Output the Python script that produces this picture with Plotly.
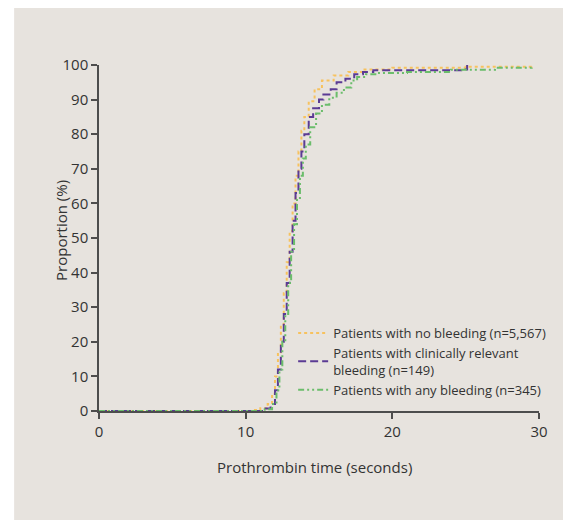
import plotly.graph_objects as go

# Prothrombin time (seconds) vs cumulative proportion (%)
no_bleed_x = [0, 10.0, 10.5, 11.0, 11.5, 11.8, 12.0, 12.2, 12.4, 12.6, 12.8, 13.0, 13.2, 13.4, 13.6, 13.8,
              14.0, 14.3, 14.7, 15.2, 16.0, 17.0, 18.0, 20.0, 25.0, 29.5]
no_bleed_y = [0, 0, 0.3, 0.8, 2, 5, 10, 17, 25, 34, 43, 52, 60, 68, 75, 81,
              85, 89.5, 93, 95.5, 97, 98, 98.7, 99.2, 99.5, 100]

clin_x = [0, 10.5, 11.2, 11.7, 12.0, 12.2, 12.4, 12.6, 12.8, 13.0, 13.2, 13.4, 13.6, 13.8, 14.0, 14.3,
          14.6, 15.0, 15.3, 15.8, 16.2, 16.8, 17.4, 18.0, 18.7, 25.0, 25.1]
clin_y = [0, 0, 0.7, 2, 6, 12, 20, 28, 37, 46, 55, 63, 70, 75, 80, 85,
          87.5, 90, 91.5, 93, 95, 96, 97.3, 98, 98.5, 98.7, 100]

any_x = [0, 10.5, 11.3, 11.8, 12.1, 12.3, 12.5, 12.7, 12.9, 13.1, 13.3, 13.5, 13.7, 13.9, 14.1, 14.4,
         14.8, 15.2, 15.7, 16.2, 16.7, 17.2, 17.6, 18.2, 19.0, 21.0, 24.0, 27.0, 29.5]
any_y = [0, 0, 0.5, 2, 6, 12, 20, 28, 37, 46, 54, 61, 68, 73, 77, 82,
         86, 88.5, 90.5, 92, 93.5, 95.5, 96.5, 97.3, 97.7, 98, 98.6, 99.2, 100]

names = ["Patients with no bleeding (n=5,567)",
         "Patients with clinically relevant<br>bleeding (n=149)",
         "Patients with any bleeding (n=345)"]

x_ticks = [0, 10, 20, 30]
y_ticks = [0, 10, 20, 30, 40, 50, 60, 70, 80, 90, 100]

FONT = "Open Sans, Noto Sans, sans-serif"
TXT = "#333333"
BG = "#e7e3de"

fig = go.Figure()
fig.add_trace(go.Scatter(x=no_bleed_x, y=no_bleed_y, mode="lines", line_shape="hv",
                         name=names[0], line=dict(color="#f7c25e", width=2, dash="dot")))
fig.add_trace(go.Scatter(x=clin_x, y=clin_y, mode="lines", line_shape="hv",
                         name=names[1], line=dict(color="#5b3b94", width=2, dash="8px,4px")))
fig.add_trace(go.Scatter(x=any_x, y=any_y, mode="lines", line_shape="hv",
                         name=names[2], line=dict(color="#6bbd6b", width=2, dash="6px,3px,2px,3px,2px,3px")))

W, H = 563, 520
L, R, T, B = 99, 13, 65, 109
pw = W - L - R
ph = H - T - B

def px(xp):
    return (xp - L) / pw

def py(yp):
    return (H - B - yp) / ph

# white strips on the left and top of the grey panel
fig.add_shape(type="rect", xref="paper", yref="paper",
              x0=px(-20), x1=px(12), y0=py(600), y1=py(-20),
              fillcolor="white", line=dict(width=0), layer="below")
fig.add_shape(type="rect", xref="paper", yref="paper",
              x0=px(-20), x1=px(620), y0=py(8), y1=py(-20),
              fillcolor="white", line=dict(width=0), layer="below")

fig.add_annotation(text="Prothrombin time (seconds)", xref="paper", yref="paper",
                   x=px(320), y=py(467), showarrow=False, xanchor="center", yanchor="middle",
                   font=dict(size=15, color=TXT))
fig.add_annotation(text="Proportion (%)", xref="paper", yref="paper",
                   x=px(60), y=py(230), showarrow=False, xanchor="center", yanchor="middle",
                   textangle=-90, font=dict(size=15, color=TXT))

fig.update_layout(
    width=W, height=H,
    margin=dict(l=L, r=R, t=T, b=B),
    paper_bgcolor=BG,
    plot_bgcolor="rgba(0,0,0,0)",
    font=dict(family=FONT, color=TXT, size=14),
    showlegend=True,
    legend=dict(x=px(298), y=py(318), xanchor="left", yanchor="top",
                bgcolor="rgba(0,0,0,0)", borderwidth=0,
                font=dict(size=13, color=TXT), itemwidth=30,
                tracegroupgap=0),
    xaxis=dict(range=[0, 30], tickvals=x_ticks, showgrid=False, zeroline=False,
               showline=True, linecolor="#4d4d4d", linewidth=1.5,
               ticks="outside", ticklen=6, tickcolor="#4d4d4d", tickwidth=1.5,
               tickfont=dict(size=15, color=TXT)),
    yaxis=dict(range=[0, 100], tickvals=y_ticks, showgrid=False, zeroline=False,
               showline=True, linecolor="#4d4d4d", linewidth=1.5,
               ticks="outside", ticklen=6, tickcolor="#4d4d4d", tickwidth=1.5,
               tickfont=dict(size=15, color=TXT)),
)

fig.write_html("out.html",
               post_script="document.body.style.margin='0';document.body.style.overflow='hidden';"
                           "document.body.style.background='%s';" % BG)
